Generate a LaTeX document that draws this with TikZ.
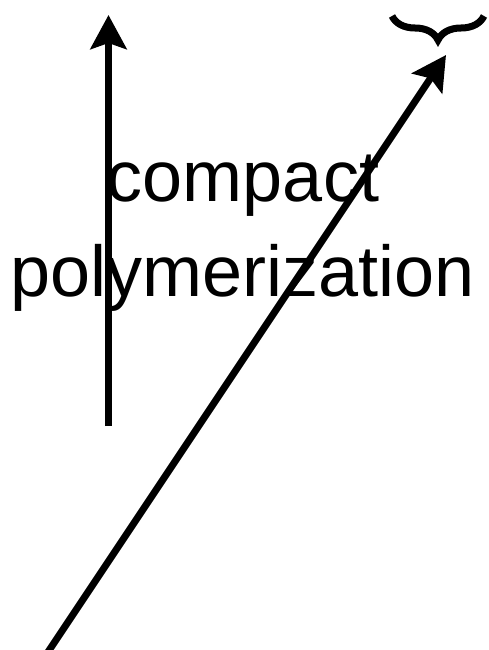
\documentclass[tikz,border=0pt]{standalone}
\usepackage{fontspec}
\setmainfont{Liberation Sans}
\usetikzlibrary{arrows.meta,decorations.pathreplacing}

\begin{document}
\begin{tikzpicture}[x=1pt, y=-1pt,
        every node/.style={font=\fontsize{72}{95}\selectfont},
        bigarrow/.style={line width=7pt, -{Stealth[length=34pt, width=36pt, inset=6pt]}}]
        \useasboundingbox (0,0) rectangle (489,650);
        \node[align=center, inner sep=0pt] (label) at (243,233) {compact\\polymerization};
        \coordinate (vbot) at (108.5,426);
        \coordinate (vtop) at (108.5,15);
        \coordinate (dbot) at (48,652);
        \coordinate (dtop) at (446,55);
        \coordinate (braceleft) at (392,16);
        \coordinate (braceright) at (484,16);
        \draw[bigarrow] (vbot) -- (vtop);
        \draw[bigarrow] (dbot) -- (dtop);
        \draw[line width=7pt, decorate, decoration={brace, mirror, amplitude=24pt}] (braceleft) -- (braceright);
    \end{tikzpicture}
\end{document}
